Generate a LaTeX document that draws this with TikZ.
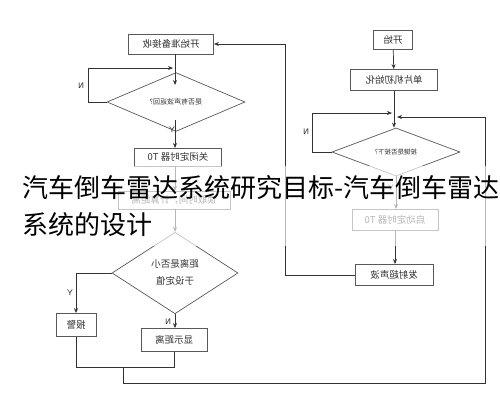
\documentclass[tikz,border=0pt]{standalone}
\usepackage{graphicx}
\usepackage{fontspec}
\setmainfont{Noto Sans CJK SC}
\newfontfamily\cjk{Noto Sans CJK SC}
\usetikzlibrary{arrows.meta,shapes.geometric}
\newcommand\rt[1]{\reflectbox{#1}}
\begin{document}
\begin{tikzpicture}[x=1pt,y=-1pt,
  line/.style={draw=black!80, line width=0.7pt},
  arr/.style={line, -{Stealth[length=5pt,width=4pt]}},
  box/.style={draw=black!65, line width=0.8pt, fill=white, inner sep=0pt,
    font=\fontsize{9.5}{11}\selectfont, text=black!80},
  dia/.style={draw=black!65, line width=0.7pt, fill=white, shape=diamond, inner sep=0pt,
    text=black!80},
  lab/.style={font=\sffamily\fontsize{8}{9}\selectfont, text=black!85, inner sep=0pt},
  overlay text/.style={font=\cjk\fontsize{26}{30}\selectfont, text=black, inner sep=0pt}
]
\useasboundingbox[fill=white] (0,0) rectangle (500,400);

% ---- right column ----
\node[box, minimum width=39pt, minimum height=19pt] (start) at (393,40) {\rt{开始}};
\node[box, minimum width=87pt, minimum height=21pt] (init) at (394,80) {\rt{单片机初始化}};
\node[dia, minimum width=128pt, minimum height=33pt, font=\fontsize{6.5}{8}\selectfont] (rdia) at (396,152) {\rt{按键是否按下?}};
\node[box, minimum width=86pt, minimum height=21pt] (t0start) at (395,220) {\rt{启动定时器 T0}};
\node[box, minimum width=78pt, minimum height=21pt] (emit) at (394,275) {\rt{发射超声波}};

% ---- left column ----
\node[box, minimum width=85pt, minimum height=20pt] (recv) at (171,44) {\rt{开始准备接收}};
\node[dia, minimum width=138pt, minimum height=35pt, font=\fontsize{7}{8}\selectfont] (ldia) at (176,102) {\rt{是否有声波返回?}};
\node[box, minimum width=87pt, minimum height=18pt] (t0stop) at (178,157) {\rt{关闭定时器 T0}};
\node[box, minimum width=112pt, minimum height=18pt] (read) at (174,200) {\rt{读取时间，计算距离}};
\node[dia, minimum width=126pt, minimum height=66pt, font=\fontsize{9.5}{17}\selectfont] (ddia) at (175,273)
  {\rt{\begin{tabular}{@{}c@{}}距离是否小\\于设定值\end{tabular}}};
\node[box, minimum width=40pt, minimum height=23pt] (alarm) at (76,325) {\rt{报警}};
\node[box, minimum width=66pt, minimum height=23pt] (disp) at (174,340) {\rt{显示距离}};

\coordinate (rl) at (312,113);
\coordinate (rin) at (397,117);
\coordinate (lin) at (392,113);
\coordinate (c1) at (285,44);
\coordinate (ll) at (88,68);
\coordinate (lj) at (173,68);
\coordinate (j1) at (123,367);
\coordinate (j3) at (485,383);

% right column connectors
\draw[arr] (start) -- (init);
\draw[arr] (init.south) -- (init.south |- rdia.north);
\draw[arr] (rdia.west) -- (rl |- rdia.west) -- (rl) -- (lin);
\draw[arr] (rdia.south) -- (rdia.south |- t0start.north);
\draw[arr] (t0start.south) -- (t0start.south |- emit.north);
\draw[arr] (emit.west) -| (c1) -- (recv.east |- c1);
\node[lab] (nr) at (306,132) {\rt{N}};
\node[lab] (yr) at (391,188) {\rt{Y}};

% left column connectors
\draw[arr] (recv.south -| 175,0) -- (175,85);
\draw[arr] (ldia.west) -- (ll |- ldia.west) -- (ll) -- (lj);
\draw[arr] (175,120) -- (175,148);
\draw[arr] (t0stop.south -| 175,0) -- (175,191);
\draw[arr] (read.south -| ddia.north) -- (ddia.north);
\draw[arr] (ddia.west) -| (alarm.north);
\draw[arr] (ddia.south) -- (ddia.south |- disp.north);
\draw[line] (alarm.south) |- (disp.south |- j1) -- (disp.south);
\draw[arr] (j1) |- (j3) |- (rin);

\node[lab] (nl) at (81,86) {\rt{N}};
\node[lab, anchor=east] (yl) at (175,130) {\rt{Y}};
\node[lab] (yd) at (70,293) {\rt{Y}};
\node[lab] (nd) at (168,322) {\rt{N}};

% ---- overlay ----
\fill[white, opacity=0.65] (0,166) rectangle (500,246);
\node[overlay text, anchor=base west] (t1) at (22,197) {汽车倒车雷达系统研究目标-汽车倒车雷达};
\node[overlay text, anchor=base west] (t2) at (22,234) {系统的设计};
\end{tikzpicture}
\end{document}
